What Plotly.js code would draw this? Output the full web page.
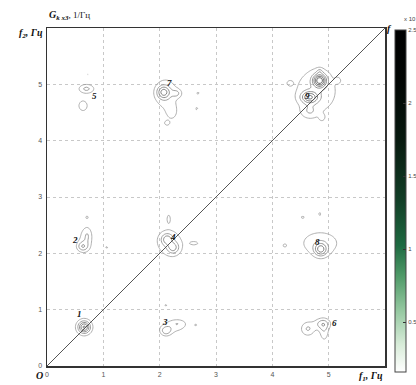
<!DOCTYPE html>
<html>
<head>
<meta charset="utf-8">
<script src="https://cdn.plot.ly/plotly-3.0.1.min.js"></script>
<style>
  html, body { margin: 0; padding: 0; background: #fff; }
  #chart { width: 416px; height: 385px; }
</style>
</head>
<body>
<div id="chart"></div>
<script>
// Spectral components of G_kx3 (f1, f2 in Hz; amplitude in units of the colour bar)
// each group: compact cores, then broad low pedestals, then small satellites
const peakF1  = [
  0.66, 0.66,                                         // 1
  0.63, 0.72, 0.68, 0.71, 1.06,                       // 2
  2.11, 2.33, 2.25, 2.11, 2.64,                       // 3
  2.13, 2.24, 2.18, 2.16, 2.62,                       // 4
  0.70, 0.64, 0.73, 0.73,                             // 5
  4.63, 4.89, 4.92, 4.33,                             // 6
  2.07, 2.30, 2.12, 2.22, 2.68, 2.66, 2.13,           // 7
  4.86, 4.85, 4.54, 4.84, 4.22,                       // 8
  4.84, 4.66, 4.78, 4.66, 4.84, 5.16, 4.31, 4.88      // 9
];
const peakF2  = [
  0.69, 0.69,
  2.12, 2.32, 2.25, 2.64, 2.11,
  0.62, 0.76, 0.70, 1.08, 0.73,
  2.25, 2.10, 2.18, 2.62, 2.18,
  4.92, 4.62, 5.18, 4.31,
  0.66, 0.75, 0.60, 0.71,
  4.86, 4.84, 4.82, 4.50, 4.84, 4.57, 4.31,
  2.07, 2.18, 2.64, 2.70, 2.14,
  5.07, 4.77, 4.88, 4.52, 5.23, 5.07, 5.02, 4.41
];
const peakAmp = [
  1.20, 0.45,
  0.70, 0.30, 0.42, 0.34, 0.34,
  0.70, 0.30, 0.42, 0.34, 0.33,
  0.80, 0.75, 0.47, 0.35, 0.35,
  0.70, 0.62, 0.33, 0.33,
  0.65, 0.75, 0.50, 0.33,
  1.05, 0.50, 0.45, 0.32, 0.34, 0.34, 0.35,
  1.10, 0.48, 0.34, 0.34, 0.34,
  1.80, 1.25, 0.52, 0.40, 0.36, 0.36, 0.36, 0.36
];
const peakWx  = [
  0.07, 0.12,
  0.07, 0.05, 0.10, 0.035, 0.045,
  0.07, 0.10, 0.17, 0.035, 0.03,
  0.07, 0.07, 0.21, 0.035, 0.08,
  0.10, 0.06, 0.025, 0.025,
  0.09, 0.10, 0.06, 0.02,
  0.08, 0.06, 0.18, 0.07, 0.05, 0.03, 0.045,
  0.08, 0.30, 0.05, 0.03, 0.04,
  0.08, 0.10, 0.32, 0.10, 0.035, 0.035, 0.04, 0.035
];
const peakWy  = [
  0.07, 0.12,
  0.06, 0.10, 0.17, 0.03, 0.03,
  0.06, 0.05, 0.09, 0.035, 0.03,
  0.07, 0.07, 0.21, 0.08, 0.035,
  0.06, 0.07, 0.02, 0.02,
  0.09, 0.07, 0.12, 0.025,
  0.08, 0.05, 0.26, 0.10, 0.03, 0.05, 0.04,
  0.08, 0.19, 0.03, 0.05, 0.035,
  0.08, 0.07, 0.34, 0.08, 0.035, 0.035, 0.035, 0.04
];

// Peak numbers and where their labels sit (f1, f2)
const peakNames = ['1', '2', '3', '4', '5', '6', '7', '8', '9'];
const nameF1    = [0.58, 0.50, 2.09, 2.23, 0.85, 5.10, 2.18, 4.80, 4.63];
const nameF2    = [0.92, 2.23, 0.78, 2.29, 4.80, 0.76, 5.02, 2.20, 4.80];

// Axis ticks and colour-bar ticks
const axisTicks = [0, 1, 2, 3, 4, 5];
const barTicks  = [0.5, 1, 1.5, 2, 2.5];
const diagonal  = [0, 6];

// Frequency grid for the contour surface
const step = 0.025;
const grid = [];
for (let v = 0; v <= 6.0001; v += step) grid.push(+v.toFixed(4));
const surface = grid.map(f2 => grid.map(f1 => {
  let s = 0;
  for (let k = 0; k < peakAmp.length; k++) {
    const dx = (f1 - peakF1[k]) / peakWx[k];
    const dy = (f2 - peakF2[k]) / peakWy[k];
    s += peakAmp[k] * Math.exp(-0.5 * (dx * dx + dy * dy));
  }
  return s;
}));

const barScale = [
  [0.00, '#ffffff'], [0.08, '#d8ecd9'], [0.18, '#94c8a0'], [0.28, '#4f9a68'],
  [0.37, '#1e6a41'], [0.50, '#123f27'], [0.68, '#07190f'], [0.85, '#020604'], [1.00, '#000000']
];

const traces = [
  {
    type: 'contour',
    x: grid, y: grid, z: surface,
    autocontour: false,
    contours: { start: 0.3, end: 2.4, size: 0.32, coloring: 'lines' },
    colorscale: [[0, '#9c9c9c'], [0.5, '#5e5e5e'], [1, '#2a2a2a']],
    line: { width: 0.8, smoothing: 1 },
    showscale: false,
    hoverinfo: 'skip'
  },
  {
    type: 'scatter', mode: 'lines',
    x: diagonal, y: diagonal,
    line: { color: '#555', width: 1 },
    hoverinfo: 'skip'
  },
  {
    // colour key for G_kx3
    type: 'scatter', mode: 'markers',
    x: [null, null], y: [null, null],
    marker: {
      color: [0.16, 2.5], cmin: 0.16, cmax: 2.5,
      colorscale: barScale, showscale: true,
      colorbar: {
        thickness: 11, thicknessmode: 'pixels',
        len: 342, lenmode: 'pixels',
        x: 1.0295, xanchor: 'left', xpad: 0,
        y: 0.488, yanchor: 'middle', ypad: 0,
        outlinewidth: 1, outlinecolor: '#444',
        tickvals: barTicks, ticktext: barTicks.map(String),
        ticks: 'inside', ticklen: 3, tickcolor: '#333',
        tickfont: { family: 'Liberation Sans Narrow, Liberation Sans, Arial', size: 6, color: '#444' }
      }
    },
    hoverinfo: 'skip'
  }
];

const labelFont = { family: 'Liberation Serif, Times New Roman, serif', size: 10, color: '#111' };
const annotations = peakNames.map((t, i) => ({
  x: nameF1[i], y: nameF2[i], xref: 'x', yref: 'y',
  text: '<b><i>' + t + '</i></b>', showarrow: false,
  font: { family: labelFont.family, size: 9, color: '#111' }
}));
annotations.push(
  { xref: 'paper', yref: 'paper', x: 0.0, y: 1.012, xanchor: 'left', yanchor: 'bottom',
    text: '<b><i>G</i></b><sub><b><i>k x3</i></b></sub><span style="font-size:9px">, 1/Гц</span>',
    showarrow: false, font: labelFont },
  { xref: 'paper', yref: 'paper', x: -0.005, y: 0.985, xanchor: 'right', yanchor: 'middle',
    text: '<b><i>f</i></b><sub><b><i>2</i></b></sub><b><i>, Гц</i></b>',
    showarrow: false, font: labelFont },
  { xref: 'paper', yref: 'paper', x: 1.0, y: -0.005, xanchor: 'right', yanchor: 'top',
    text: '<b><i>f</i></b><sub><b><i>1</i></b></sub><b><i>, Гц</i></b>',
    showarrow: false, font: labelFont },
  { xref: 'paper', yref: 'paper', x: 1.0, y: 1.0, xanchor: 'left', yanchor: 'middle',
    text: '<b><i>f</i></b>', showarrow: false, font: labelFont },
  { xref: 'paper', yref: 'paper', x: -0.005, y: -0.005, xanchor: 'right', yanchor: 'top',
    text: '<b><i>O</i></b>', showarrow: false, font: labelFont },
  { xref: 'paper', yref: 'paper', x: 1.075, y: 1.012, xanchor: 'center', yanchor: 'bottom',
    text: 'x 10', showarrow: false,
    font: { family: 'Liberation Sans, Arial', size: 6, color: '#444' } }
);

const axisBase = {
  range: [0, 6], tickvals: axisTicks, ticktext: axisTicks.map(String),
  showline: true, mirror: true, linecolor: '#333', linewidth: 1.5,
  showgrid: true, gridcolor: '#c8c8c8', griddash: 'dot', gridwidth: 1,
  zeroline: false, ticks: '', fixedrange: true,
  tickfont: { family: 'Liberation Sans, Arial', size: 7, color: '#555' }
};

const layout = {
  width: 416, height: 385,
  margin: { l: 47, r: 31, t: 28, b: 19, autoexpand: false },
  paper_bgcolor: '#fff', plot_bgcolor: '#fff',
  showlegend: false,
  xaxis: Object.assign({}, axisBase, { ticklabelstandoff: 1 }),
  yaxis: Object.assign({}, axisBase, { ticklabelstandoff: 2 }),
  annotations: annotations
};

Plotly.newPlot('chart', traces, layout, { displayModeBar: false, staticPlot: true });
</script>
</body>
</html>
